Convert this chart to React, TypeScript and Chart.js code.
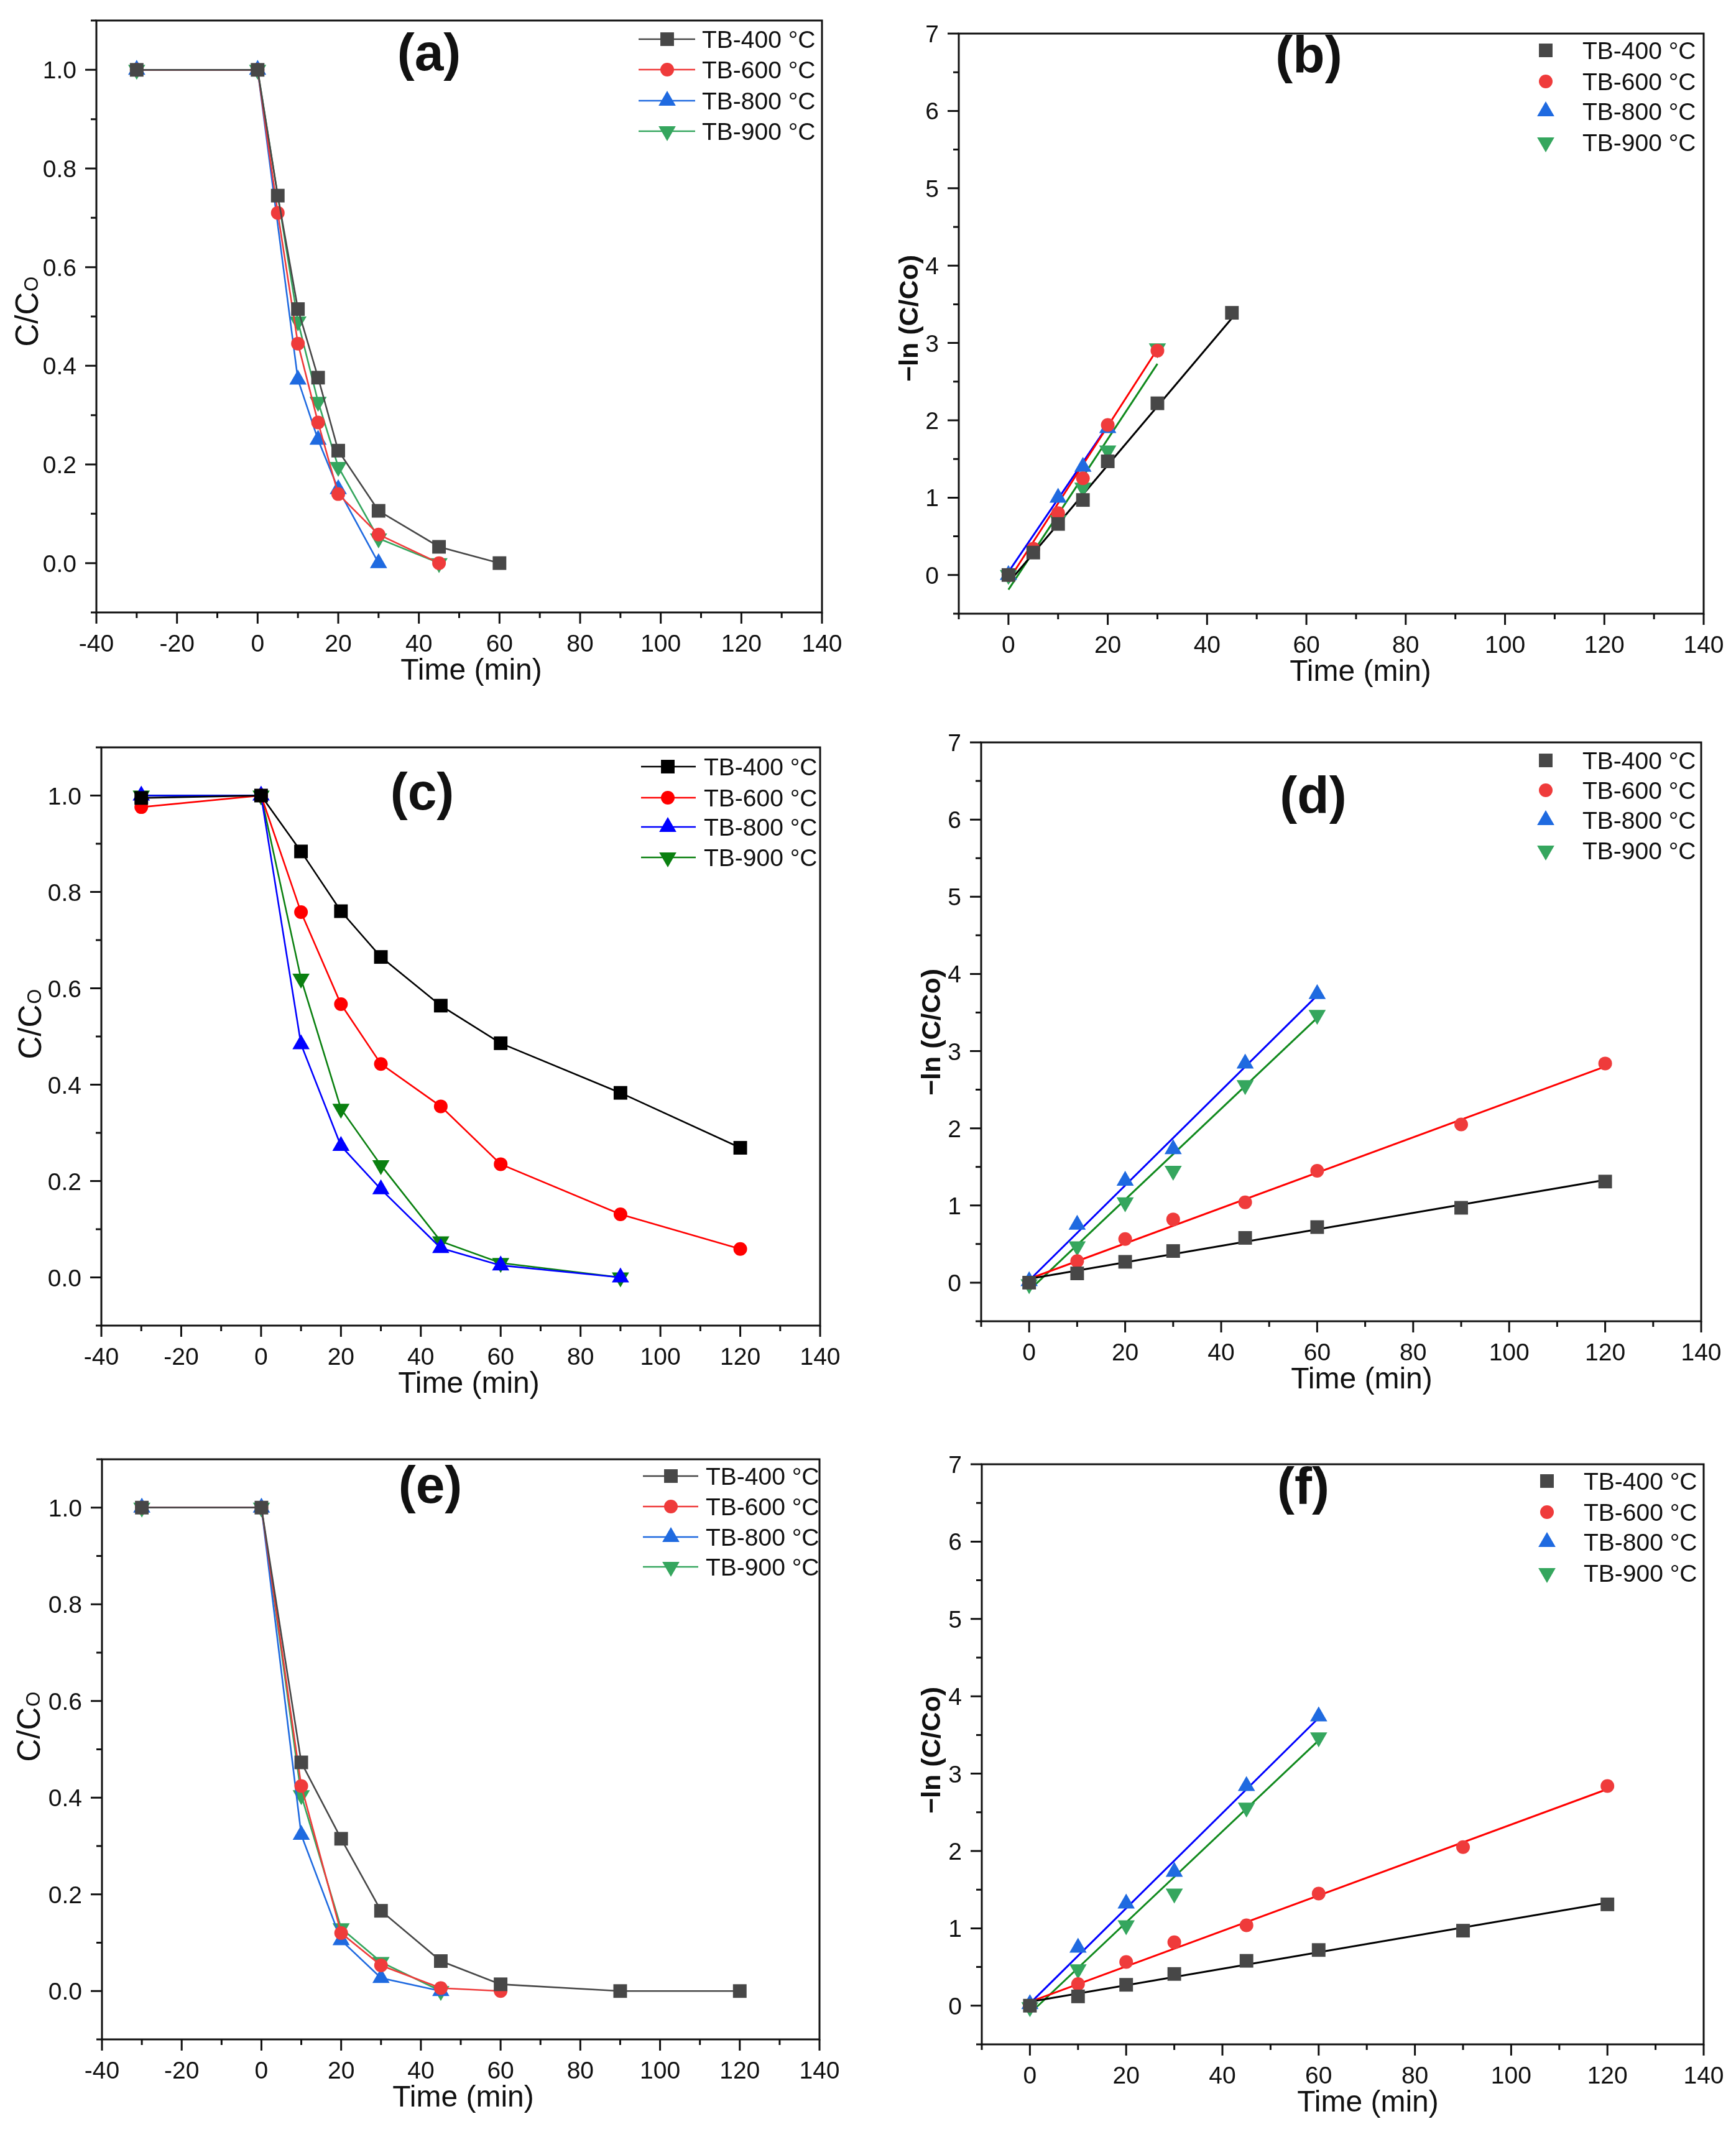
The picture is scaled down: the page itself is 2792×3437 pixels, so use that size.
import { useEffect, useRef } from "react"
import { Chart, registerables } from "chart.js"

Chart.register(...registerables)

// ---------- data ----------

const seriesNames = ["TB-400 °C", "TB-600 °C", "TB-800 °C", "TB-900 °C"]

// (a) C/C0 vs time
const timeA400 = [-30, 0, 5, 10, 15, 20, 30, 45, 60]
const ratioA400 = [1, 1, 0.745, 0.515, 0.376, 0.228, 0.106, 0.033, 0]
const timeA600 = [-30, 0, 5, 10, 15, 20, 30, 45]
const ratioA600 = [1, 1, 0.71, 0.445, 0.285, 0.14, 0.058, 0]
const timeA800 = [-30, 0, 10, 15, 20, 30]
const ratioA800 = [1, 1, 0.372, 0.25, 0.15, 0]
const timeA900 = [-30, 0, 10, 15, 20, 30, 45]
const ratioA900 = [1, 1, 0.49, 0.327, 0.195, 0.05, 0]

// (b) -ln(C/C0) vs time, with fitted lines (end points)
const timeB400 = [0, 5, 10, 15, 20, 30, 45]
const lnB400 = [0, 0.29, 0.66, 0.97, 1.47, 2.22, 3.39]
const timeB600 = [0, 5, 10, 15, 20, 30]
const lnB600 = [0, 0.34, 0.8, 1.25, 1.94, 2.9]
const timeB800 = [0, 10, 15, 20]
const lnB800 = [0, 1.0, 1.4, 1.9]
const timeB900 = [0, 10, 15, 20, 30]
const lnB900 = [0, 0.71, 1.13, 1.61, 2.93]
const fitB400X = [0, 45]
const fitB400Y = [-0.1, 3.32]
const fitB600X = [0, 30]
const fitB600Y = [-0.07, 2.92]
const fitB800X = [0, 20]
const fitB800Y = [0.04, 1.93]
const fitB900X = [0, 30]
const fitB900Y = [-0.19, 2.73]

// (c) C/C0 vs time
const timeC = [-30, 0, 10, 20, 30, 45, 60, 90, 120]
const ratioC400 = [0.995, 1, 0.884, 0.76, 0.665, 0.564, 0.486, 0.383, 0.269]
const ratioC600 = [0.976, 1, 0.758, 0.567, 0.443, 0.355, 0.235, 0.131, 0.059]
const timeC2 = [-30, 0, 10, 20, 30, 45, 60, 90]
const ratioC800 = [1, 1, 0.484, 0.273, 0.183, 0.061, 0.025, 0]
const ratioC900 = [1, 1, 0.62, 0.35, 0.233, 0.075, 0.03, 0]

// (d) and (f) show the same kinetics
const timeD = [0, 10, 20, 30, 45, 60, 90, 120]
const lnD400 = [0, 0.12, 0.27, 0.41, 0.58, 0.72, 0.97, 1.31]
const lnD600 = [0, 0.28, 0.565, 0.82, 1.04, 1.45, 2.05, 2.84]
const timeD2 = [0, 10, 20, 30, 45, 60]
const lnD800 = [0.02, 0.75, 1.32, 1.73, 2.84, 3.74]
const lnD900 = [-0.02, 0.47, 1.04, 1.45, 2.56, 3.47]
const fitD400X = [0, 120]
const fitD400Y = [0.05, 1.33]
const fitD600X = [0, 120]
const fitD600Y = [0.05, 2.8]
const fitD800X = [0, 60]
const fitD800Y = [0.03, 3.72]
const fitD900X = [0, 60]
const fitD900Y = [-0.1, 3.43]

// (e) C/C0 vs time
const timeE400 = [-30, 0, 10, 20, 30, 45, 60, 90, 120]
const ratioE400 = [1, 1, 0.473, 0.315, 0.166, 0.062, 0.014, 0, 0]
const timeE600 = [-30, 0, 10, 20, 30, 45, 60]
const ratioE600 = [1, 1, 0.424, 0.12, 0.053, 0.006, 0]
const timeE800 = [-30, 0, 10, 20, 30, 45]
const ratioE800 = [1, 1, 0.323, 0.105, 0.027, 0]
const timeE900 = [-30, 0, 10, 20, 30, 45]
const ratioE900 = [1, 1, 0.405, 0.13, 0.06, 0]

// axis ticks
const ratioXMajor = [-40, -20, 0, 20, 40, 60, 80, 100, 120, 140]
const ratioXMinor = [-30, -10, 10, 30, 50, 70, 90, 110, 130]
const ratioYMajor = [0, 0.2, 0.4, 0.6, 0.8, 1.0]
const ratioYMinor = [-0.1, 0.1, 0.3, 0.5, 0.7, 0.9, 1.1]
const lnXMajor = [0, 20, 40, 60, 80, 100, 120, 140]
const lnXMinor = [-10, 10, 30, 50, 70, 90, 110, 130]
const lnYMajor = [0, 1, 2, 3, 4, 5, 6, 7]
const lnYMinor = [-0.5, 0.5, 1.5, 2.5, 3.5, 4.5, 5.5, 6.5]

// ---------- styling ----------

const FONT = '"Liberation Sans", Arial, Helvetica, sans-serif'
const INK = "#111111"

const softColors = ["#474747", "#ef3b3b", "#1f6ae0", "#35a65e"]
const pureColors = ["#000000", "#ff0000", "#0000ff", "#0a8010"]
const fitColors = ["#000000", "#ff0000", "#0000ff", "#118a1e"]
const shapes = ["rect", "circle", "triangle", "triangle"]
const rotations = [0, 0, 0, 180]
const radii = [15.5, 11, 16, 16]

type Box = { left: number; top: number; right: number; bottom: number }
type Cell = { x: number; y: number; w: number; h: number }

interface Series {
  x: number[]
  y: number[]
}

interface PanelSpec {
  kind: "ratio" | "ln"
  cell: Cell
  box: Box
  letter: string
  letterX: number
  letterY: number
  yTitleX: number
  yTitleY: number
  xTitleX: number
  legendLine?: [number, number]
  legendMarkerX: number
  legendTextX: number
  legendRows: number[]
  colors: string[]
  series: Series[]
  fits?: Series[]
}

const panels: PanelSpec[] = [
  {
    kind: "ratio",
    cell: { x: 0, y: 0, w: 1400, h: 1140 },
    box: { left: 155, top: 33, right: 1322, bottom: 985 },
    letter: "(a)", letterX: 690, letterY: 113,
    yTitleX: 61, yTitleY: 501, xTitleX: 758,
    legendLine: [1027, 1118], legendMarkerX: 1073, legendTextX: 1129,
    legendRows: [63, 112, 162, 211],
    colors: softColors,
    series: [
      { x: timeA400, y: ratioA400 },
      { x: timeA600, y: ratioA600 },
      { x: timeA800, y: ratioA800 },
      { x: timeA900, y: ratioA900 },
    ],
  },
  {
    kind: "ln",
    cell: { x: 1400, y: 0, w: 1392, h: 1140 },
    box: { left: 1542, top: 54, right: 2740, bottom: 987 },
    letter: "(b)", letterX: 2105, letterY: 117,
    yTitleX: 1476, yTitleY: 512, xTitleX: 2188,
    legendMarkerX: 2486, legendTextX: 2545,
    legendRows: [81, 131, 179, 229],
    colors: softColors,
    series: [
      { x: timeB400, y: lnB400 },
      { x: timeB600, y: lnB600 },
      { x: timeB800, y: lnB800 },
      { x: timeB900, y: lnB900 },
    ],
    fits: [
      { x: fitB400X, y: fitB400Y },
      { x: fitB600X, y: fitB600Y },
      { x: fitB800X, y: fitB800Y },
      { x: fitB900X, y: fitB900Y },
    ],
  },
  {
    kind: "ratio",
    cell: { x: 0, y: 1140, w: 1400, h: 1140 },
    box: { left: 163, top: 1202, right: 1319, bottom: 2132 },
    letter: "(c)", letterX: 679, letterY: 1302,
    yTitleX: 66, yTitleY: 1647, xTitleX: 754,
    legendLine: [1031, 1119], legendMarkerX: 1074, legendTextX: 1132,
    legendRows: [1233, 1283, 1330, 1379],
    colors: pureColors,
    series: [
      { x: timeC, y: ratioC400 },
      { x: timeC, y: ratioC600 },
      { x: timeC2, y: ratioC800 },
      { x: timeC2, y: ratioC900 },
    ],
  },
  {
    kind: "ln",
    cell: { x: 1400, y: 1140, w: 1392, h: 1140 },
    box: { left: 1578, top: 1194, right: 2736, bottom: 2125 },
    letter: "(d)", letterX: 2112, letterY: 1308,
    yTitleX: 1512, yTitleY: 1660, xTitleX: 2190,
    legendMarkerX: 2486, legendTextX: 2545,
    legendRows: [1223, 1271, 1319, 1368],
    colors: softColors,
    series: [
      { x: timeD, y: lnD400 },
      { x: timeD, y: lnD600 },
      { x: timeD2, y: lnD800 },
      { x: timeD2, y: lnD900 },
    ],
    fits: [
      { x: fitD400X, y: fitD400Y },
      { x: fitD600X, y: fitD600Y },
      { x: fitD800X, y: fitD800Y },
      { x: fitD900X, y: fitD900Y },
    ],
  },
  {
    kind: "ratio",
    cell: { x: 0, y: 2280, w: 1400, h: 1157 },
    box: { left: 164, top: 2347, right: 1318, bottom: 3280 },
    letter: "(e)", letterX: 692, letterY: 2417,
    yTitleX: 64, yTitleY: 2777, xTitleX: 745,
    legendLine: [1034, 1123], legendMarkerX: 1079, legendTextX: 1135,
    legendRows: [2374, 2423, 2472, 2520],
    colors: softColors,
    series: [
      { x: timeE400, y: ratioE400 },
      { x: timeE600, y: ratioE600 },
      { x: timeE800, y: ratioE800 },
      { x: timeE900, y: ratioE900 },
    ],
  },
  {
    kind: "ln",
    cell: { x: 1400, y: 2280, w: 1392, h: 1157 },
    box: { left: 1579, top: 2355, right: 2740, bottom: 3288 },
    letter: "(f)", letterX: 2096, letterY: 2419,
    yTitleX: 1512, yTitleY: 2815, xTitleX: 2200,
    legendMarkerX: 2488, legendTextX: 2547,
    legendRows: [2382, 2432, 2480, 2530],
    colors: softColors,
    series: [
      { x: timeD, y: lnD400 },
      { x: timeD, y: lnD600 },
      { x: timeD2, y: lnD800 },
      { x: timeD2, y: lnD900 },
    ],
    fits: [
      { x: fitD400X, y: fitD400Y },
      { x: fitD600X, y: fitD600Y },
      { x: fitD800X, y: fitD800Y },
      { x: fitD900X, y: fitD900Y },
    ],
  },
]

// same geometry as Chart.js' own point styles, used for the legend
function drawMarker(ctx: CanvasRenderingContext2D, i: number, x: number, y: number, color: string) {
  const r = radii[i]
  ctx.save()
  ctx.fillStyle = color
  ctx.beginPath()
  if (shapes[i] === "circle") {
    ctx.arc(x, y, r, 0, Math.PI * 2)
  } else if (shapes[i] === "rect") {
    const s = r * Math.SQRT1_2
    ctx.rect(x - s, y - s, 2 * s, 2 * s)
  } else {
    let a = (rotations[i] * Math.PI) / 180
    for (let k = 0; k < 3; k++) {
      const px = x + Math.sin(a) * r
      const py = y - Math.cos(a) * r
      if (k === 0) ctx.moveTo(px, py)
      else ctx.lineTo(px, py)
      a += (2 * Math.PI) / 3
    }
    ctx.closePath()
  }
  ctx.fill()
  ctx.restore()
}

function Panel({ spec }: { spec: PanelSpec }) {
  const canvasRef = useRef<HTMLCanvasElement>(null)
  const chartRef = useRef<Chart | null>(null)

  useEffect(() => {
    const canvas = canvasRef.current
    if (!canvas) return
    const ctx = canvas.getContext("2d")
    if (!ctx) return
    if (chartRef.current) chartRef.current.destroy()

    const { cell, box } = spec
    const isRatio = spec.kind === "ratio"
    const xMajor = isRatio ? ratioXMajor : lnXMajor
    const xMinor = isRatio ? ratioXMinor : lnXMinor
    const yMajor = isRatio ? ratioYMajor : lnYMajor
    const yMinor = isRatio ? ratioYMinor : lnYMinor
    const fmtY = (v: number) => (isRatio ? v.toFixed(1) : String(v))

    const datasets: any[] = spec.series.map((s, i) => ({
      label: seriesNames[i],
      data: s.x.map((t, k) => ({ x: t, y: s.y[k] })),
      showLine: isRatio,
      borderColor: spec.colors[i],
      backgroundColor: spec.colors[i],
      borderWidth: 2.6,
      pointStyle: shapes[i],
      pointRadius: radii[i],
      pointHoverRadius: radii[i],
      pointRotation: rotations[i],
      pointBorderWidth: 0,
      tension: 0,
    }))
    if (spec.fits) {
      spec.fits.forEach((f, i) => {
        datasets.push({
          label: "fit " + seriesNames[i],
          data: f.x.map((t, k) => ({ x: t, y: f.y[k] })),
          showLine: true,
          borderColor: fitColors[i],
          backgroundColor: fitColors[i],
          borderWidth: 3,
          pointRadius: 0,
          pointHoverRadius: 0,
        })
      })
    }

    const framePlugin = {
      id: "frame",
      afterDraw(chart: Chart) {
        const c = chart.ctx
        const xs = chart.scales.x
        const ys = chart.scales.y
        const { left, top, right, bottom } = chart.chartArea
        c.save()
        c.strokeStyle = INK
        c.lineWidth = 3
        c.strokeRect(left, top, right - left, bottom - top)

        // outward tick marks
        c.beginPath()
        for (const v of xMajor) {
          const p = xs.getPixelForValue(v)
          c.moveTo(p, bottom)
          c.lineTo(p, bottom + 18)
        }
        for (const v of xMinor) {
          const p = xs.getPixelForValue(v)
          c.moveTo(p, bottom)
          c.lineTo(p, bottom + 9)
        }
        for (const v of yMajor) {
          const p = ys.getPixelForValue(v)
          c.moveTo(left, p)
          c.lineTo(left - 18, p)
        }
        for (const v of yMinor) {
          const p = ys.getPixelForValue(v)
          c.moveTo(left, p)
          c.lineTo(left - 9, p)
        }
        c.stroke()

        // tick labels
        c.fillStyle = INK
        c.font = `39px ${FONT}`
        c.textBaseline = "alphabetic"
        c.textAlign = "center"
        for (const v of xMajor) c.fillText(String(v), xs.getPixelForValue(v), bottom + 63)
        c.textAlign = "right"
        for (const v of yMajor) c.fillText(fmtY(v), left - 32, ys.getPixelForValue(v) + 14)

        // x title
        c.textAlign = "center"
        c.font = `48px ${FONT}`
        c.fillText("Time (min)", spec.xTitleX - cell.x, bottom + 108)

        // y title
        c.save()
        if (isRatio) {
          c.font = `51px ${FONT}`
          const main = "C/C"
          const sub = "O"
          const wMain = c.measureText(main).width
          c.font = `31px ${FONT}`
          const wSub = c.measureText(sub).width
          c.translate(spec.yTitleX - cell.x, spec.yTitleY - cell.y)
          c.rotate(-Math.PI / 2)
          c.textAlign = "left"
          const start = -(wMain + 1 + wSub) / 2
          c.font = `51px ${FONT}`
          c.fillText(main, start, 0)
          c.font = `31px ${FONT}`
          c.fillText(sub, start + wMain + 1, 0)
        } else {
          c.font = `bold 43px ${FONT}`
          c.translate(spec.yTitleX - cell.x, spec.yTitleY - cell.y)
          c.rotate(-Math.PI / 2)
          c.textAlign = "center"
          c.fillText("\u2212ln (C/Co)", 0, 0)
        }
        c.restore()

        // panel letter
        c.font = `bold 84px ${FONT}`
        c.textAlign = "center"
        c.fillText(spec.letter, spec.letterX - cell.x, spec.letterY - cell.y)

        // legend
        c.font = `39px ${FONT}`
        c.textAlign = "left"
        spec.legendRows.forEach((row, i) => {
          const y = row - cell.y
          const col = spec.colors[i]
          if (spec.legendLine) {
            c.strokeStyle = col
            c.lineWidth = 2.6
            c.beginPath()
            c.moveTo(spec.legendLine[0] - cell.x, y)
            c.lineTo(spec.legendLine[1] - cell.x, y)
            c.stroke()
          }
          drawMarker(c, i, spec.legendMarkerX - cell.x, y, col)
          c.fillStyle = INK
          c.fillText(seriesNames[i], spec.legendTextX - cell.x, y + 14)
        })
        c.restore()
      },
    }

    chartRef.current = new Chart(ctx, {
      type: "scatter",
      data: { datasets },
      options: {
        animation: false,
        responsive: false,
        devicePixelRatio: 1,
        events: [],
        layout: {
          padding: {
            left: box.left - cell.x,
            top: box.top - cell.y,
            right: cell.x + cell.w - box.right,
            bottom: cell.y + cell.h - box.bottom,
          },
        },
        scales: {
          x: {
            type: "linear",
            min: isRatio ? -40 : -10,
            max: 140,
            display: false,
          },
          y: {
            type: "linear",
            min: isRatio ? -0.1 : -0.5,
            max: isRatio ? 1.1 : 7,
            display: false,
          },
        },
        plugins: {
          legend: { display: false },
          tooltip: { enabled: false },
        },
      },
      plugins: [framePlugin],
    })

    return () => {
      if (chartRef.current) {
        chartRef.current.destroy()
        chartRef.current = null
      }
    }
  }, [spec])

  return (
    <div
      style={{
        position: "absolute",
        left: spec.cell.x,
        top: spec.cell.y,
        width: spec.cell.w,
        height: spec.cell.h,
      }}
    >
      <canvas
        ref={canvasRef}
        width={spec.cell.w}
        height={spec.cell.h}
        style={{ width: spec.cell.w, height: spec.cell.h, display: "block" }}
      ></canvas>
    </div>
  )
}

export default function App() {
  return (
    <div
      style={{
        position: "absolute",
        left: 0,
        top: 0,
        width: 2792,
        height: 3437,
        background: "#ffffff",
        overflow: "hidden",
      }}
    >
      {panels.map((p) => (
        <Panel key={p.letter} spec={p} />
      ))}
    </div>
  )
}
